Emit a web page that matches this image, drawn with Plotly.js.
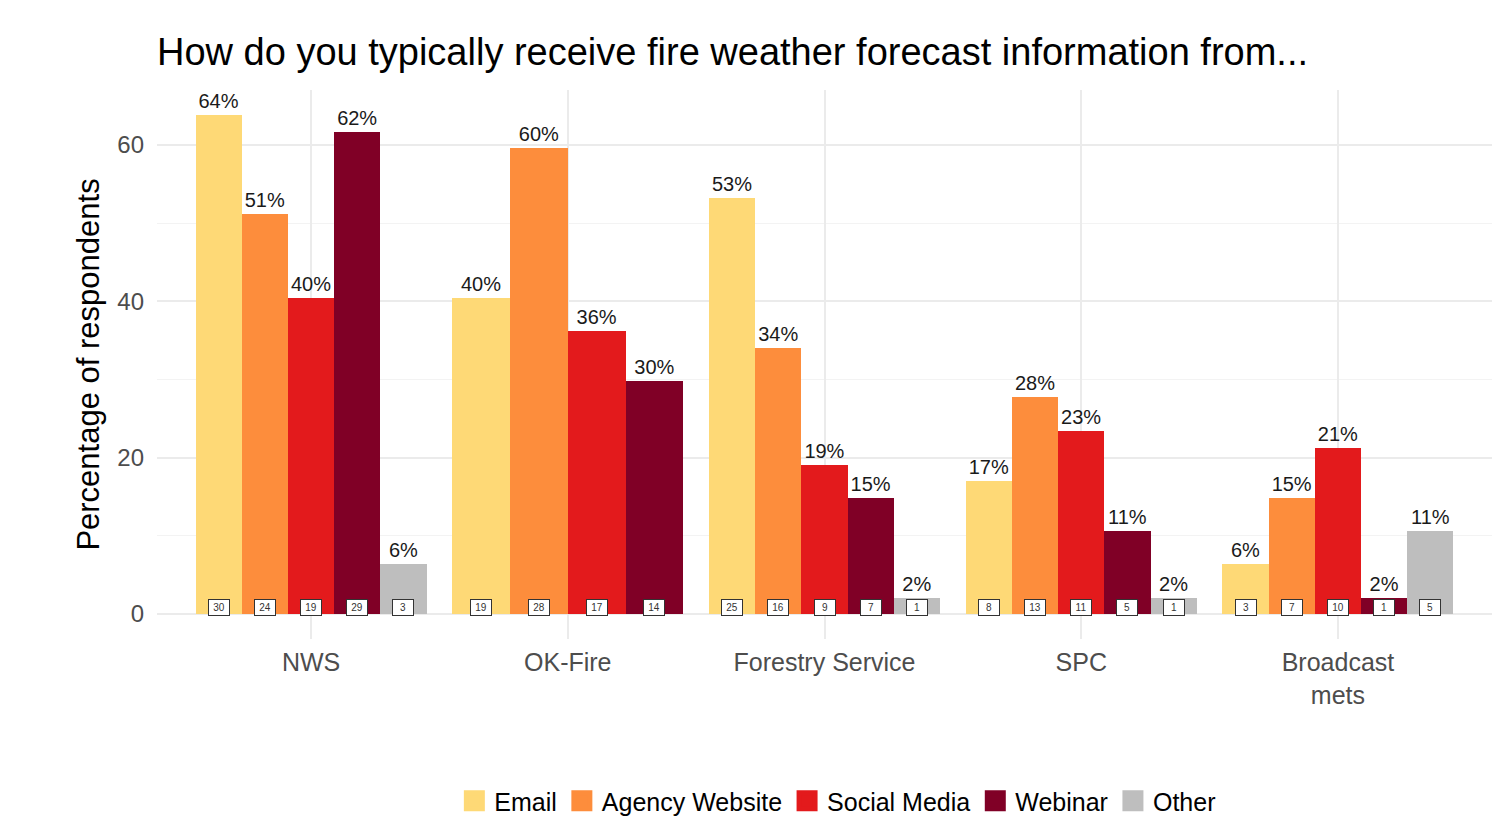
<!DOCTYPE html>
<html><head><meta charset="utf-8">
<script src="https://cdn.plot.ly/plotly-3.0.1.min.js"></script>
<style>html,body{margin:0;padding:0;background:#fff}#chart{width:1492px;height:816px}</style>
</head><body><div id="chart"></div>
<script>
const categories = ['NWS', 'OK-Fire', 'Forestry Service', 'SPC', 'Broadcast<br>mets'];
const seriesNames = ['Email', 'Agency Website', 'Social Media', 'Webinar', 'Other'];
const seriesColors = ['#FED976', '#FD8D3C', '#E31A1C', '#800026', '#BEBEBE'];
// percentage of respondents
const emailPct   = [63.8, 40.4, 53.2, 17.0, 6.4];
const agencyPct  = [51.1, 59.6, 34.0, 27.7, 14.9];
const socialPct  = [40.4, 36.2, 19.1, 23.4, 21.3];
const webinarPct = [61.7, 29.8, 14.9, 10.6, 2.1];
const otherPct   = [6.4, null, 2.1, 2.1, 10.6];
// respondent counts
const emailN   = [30, 19, 25, 8, 3];
const agencyN  = [24, 28, 16, 13, 7];
const socialN  = [19, 17, 9, 11, 10];
const webinarN = [29, 14, 7, 5, 1];
const otherN   = [3, null, 1, 1, 5];
const yTicks = [0, 20, 40, 60];

const pcts = [emailPct, agencyPct, socialPct, webinarPct, otherPct];
const counts = [emailN, agencyN, socialN, webinarN, otherN];

// dodge like ggplot: bars present in a category share 0.9 of the slot
const groupWidth = 0.9;
const pos = pcts.map(() => []);
const wid = pcts.map(() => []);
categories.forEach((c, i) => {
  const present = pcts.map((p, s) => p[i] != null ? s : -1).filter(s => s >= 0);
  const w = groupWidth / present.length;
  present.forEach((s, k) => {
    pos[s][i] = (i + 1) - groupWidth / 2 + w * (k + 0.5);
    wid[s][i] = w;
  });
});

const traces = [];
const annotations = [];
const font = 'Liberation Sans, Arial, Helvetica, sans-serif';
pcts.forEach((p, s) => {
  const xs = [], ys = [], ws = [], txt = [];
  p.forEach((v, i) => {
    if (v == null) return;
    xs.push(pos[s][i]); ys.push(v); ws.push(wid[s][i]);
    txt.push(Math.round(v) + '%');
    annotations.push({
      x: pos[s][i], y: 0.9, xref: 'x', yref: 'y', text: String(counts[s][i]),
      showarrow: false, font: {family: font, size: 10, color: '#333'},
      width: 16, height: 11,
      bgcolor: '#ffffff', bordercolor: '#333333', borderwidth: 1, borderpad: 2
    });
  });
  traces.push({
    type: 'bar', x: xs, y: ys, width: ws, name: seriesNames[s],
    marker: {color: seriesColors[s], line: {width: 0}},
    text: txt, textposition: 'outside', constraintext: 'none', cliponaxis: false,
    textfont: {family: font, size: 20, color: '#1a1a1a'},
    showlegend: false, legendgroup: seriesNames[s], hoverinfo: 'x+y'
  });
});
// legend entries
seriesNames.forEach((n, s) => {
  traces.push({
    type: 'scatter', mode: 'markers', x: [null], y: [null], name: n,
    legendgroup: n,
    marker: {symbol: 'square', size: 22, color: seriesColors[s], line: {width: 5, color: seriesColors[s]}},
    showlegend: true
  });
});

const layout = {
  width: 1492, height: 816,
  margin: {l: 157, r: 0, t: 90, b: 177},
  paper_bgcolor: '#ffffff', plot_bgcolor: '#ffffff',
  font: {family: font},
  title: {
    text: 'How do you typically receive fire weather forecast information from...',
    font: {family: font, size: 38, color: '#000'},
    x: 0, xref: 'paper', xanchor: 'left', y: 1 - 52 / 816, yref: 'container', yanchor: 'middle'
  },
  barmode: 'overlay', bargap: 0,
  xaxis: {
    range: [0.4, 5.6], tickmode: 'array', tickvals: [1, 2, 3, 4, 5], ticktext: categories,
    showgrid: true, gridcolor: '#EBEBEB', gridwidth: 2, zeroline: false, showline: false,
    ticks: '', ticklabelstandoff: 6, automargin: false,
    tickfont: {family: font, size: 25, color: '#4D4D4D'}
  },
  yaxis: {
    range: [-3.19, 67.02], tickmode: 'array', tickvals: yTicks,
    showgrid: true, gridcolor: '#EBEBEB', gridwidth: 2, zeroline: false, showline: false,
    minor: {tickmode: 'array', tickvals: [10, 30, 50], showgrid: true, gridcolor: '#F3F3F3', gridwidth: 1, ticks: ''},
    ticks: '', ticklabelstandoff: 12, automargin: false,
    tickfont: {family: font, size: 24, color: '#4D4D4D'},
    title: {text: 'Percentage of respondents', font: {family: font, size: 31, color: '#000'}, standoff: 8}
  },
  showlegend: true,
  legend: {
    orientation: 'h', x: 0.51, xanchor: 'center', xref: 'paper',
    y: 1 - 801 / 816, yref: 'container', yanchor: 'middle',
    font: {family: font, size: 25, color: '#000'}, itemclick: false
  },
  annotations: annotations
};

Plotly.newPlot('chart', traces, layout, {displayModeBar: false, staticPlot: true});
</script>
</body></html>
